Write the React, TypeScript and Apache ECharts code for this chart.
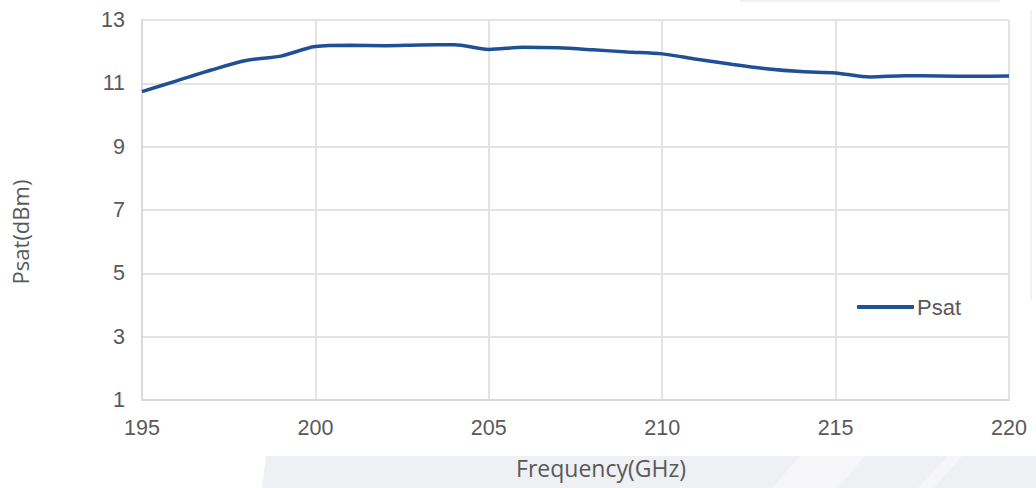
import React, { useEffect, useRef } from "react";
import * as echarts from "echarts";

const freqGHz = [195, 196, 197, 198, 199, 200, 201, 202, 203, 204, 205, 206, 207, 208, 209, 210, 211, 212, 213, 214, 215, 216, 217, 218, 219, 220];
const psat = [10.74, 11.08, 11.42, 11.72, 11.86, 12.16, 12.2, 12.19, 12.21, 12.22, 12.07, 12.14, 12.12, 12.06, 11.99, 11.93, 11.76, 11.6, 11.46, 11.37, 11.33, 11.2, 11.24, 11.23, 11.22, 11.23];
const seriesName = "Psat";
const xTitle = "Frequency(GHz)";
const yTitle = "Psat(dBm)";

export default function App() {
  const ref = useRef<HTMLDivElement>(null);
  useEffect(() => {
    if (!ref.current) return;
    const chart = echarts.init(ref.current, undefined, { renderer: "svg" });
    const tickColor = "#595959";
    const gridColor = "#d9d9d9";
    chart.setOption({
      animation: false,
      backgroundColor: "#ffffff",
      grid: { left: 142, right: 27, top: 20, bottom: 88, containLabel: false },
      graphic: [
        {
          type: "polygon",
          z: -10,
          silent: true,
          shape: { points: [[266, 456], [1036, 456], [1036, 488], [262, 488]] },
          style: { fill: "#eff0f4" },
        },
        {
          type: "polygon",
          z: -9,
          silent: true,
          shape: { points: [[800, 456], [865, 456], [838, 488], [772, 488]] },
          style: { fill: "#f6f6f9" },
        },
        {
          type: "polygon",
          z: -9,
          silent: true,
          shape: { points: [[948, 456], [962, 456], [934, 488], [918, 488]] },
          style: { fill: "#f6f6f9" },
        },
        {
          type: "rect",
          z: -10,
          silent: true,
          shape: { x: 1030, y: 10, width: 2, height: 290 },
          style: { fill: "#f2f2f5" },
        },
        {
          type: "rect",
          z: -10,
          silent: true,
          shape: { x: 740, y: 0, width: 260, height: 2 },
          style: { fill: "#f1f1f5" },
        },
        {
          type: "text",
          x: 601,
          y: 468,
          style: {
            text: xTitle,
            fontFamily: "Open Sans",
            fontSize: 23,
            fill: tickColor,
            align: "center",
            verticalAlign: "middle",
          },
        },
        {
          type: "text",
          x: 20,
          y: 232,
          rotation: Math.PI / 2,
          style: {
            text: yTitle,
            fontFamily: "Open Sans",
            fontSize: 22,
            fill: tickColor,
            align: "center",
            verticalAlign: "middle",
          },
        },
      ],
      legend: {
        data: [{ name: seriesName, icon: "roundRect" }],
        left: 852,
        top: 291,
        itemWidth: 57,
        itemHeight: 4,
        itemGap: 10,
        textStyle: { color: tickColor, fontSize: 22, fontFamily: "Liberation Sans", padding: [0, 0, 0, -2] },
      },
      xAxis: {
        type: "value",
        min: 195,
        max: 220,
        interval: 5,
        axisLine: { show: true, lineStyle: { color: gridColor, width: 2 } },
        axisTick: { show: false },
        splitLine: { show: true, lineStyle: { color: "#e3e3e3", width: 2 } },
        axisLabel: { color: tickColor, fontSize: 21.5, fontFamily: "Liberation Sans", margin: 17 },
      },
      yAxis: {
        type: "value",
        min: 1,
        max: 13,
        interval: 2,
        axisLine: { show: true, lineStyle: { color: gridColor, width: 2 } },
        axisTick: { show: false },
        splitLine: { show: true, lineStyle: { color: "#e3e3e3", width: 2 } },
        axisLabel: { color: tickColor, fontSize: 21.5, fontFamily: "Liberation Sans", margin: 17 },
      },
      series: [
        {
          name: seriesName,
          type: "line",
          data: freqGHz.map((f, i) => [f, psat[i]]),
          smooth: 0.3,
          showSymbol: false,
          symbol: "none",
          lineStyle: { color: "#1f5095", width: 3.5 },
          itemStyle: { color: "#1f5095" },
        },
      ],
    });
    return () => chart.dispose();
  }, []);
  return <div ref={ref} style={{ position: "fixed", left: 0, top: 0, width: 1036, height: 488 }} />;
}
